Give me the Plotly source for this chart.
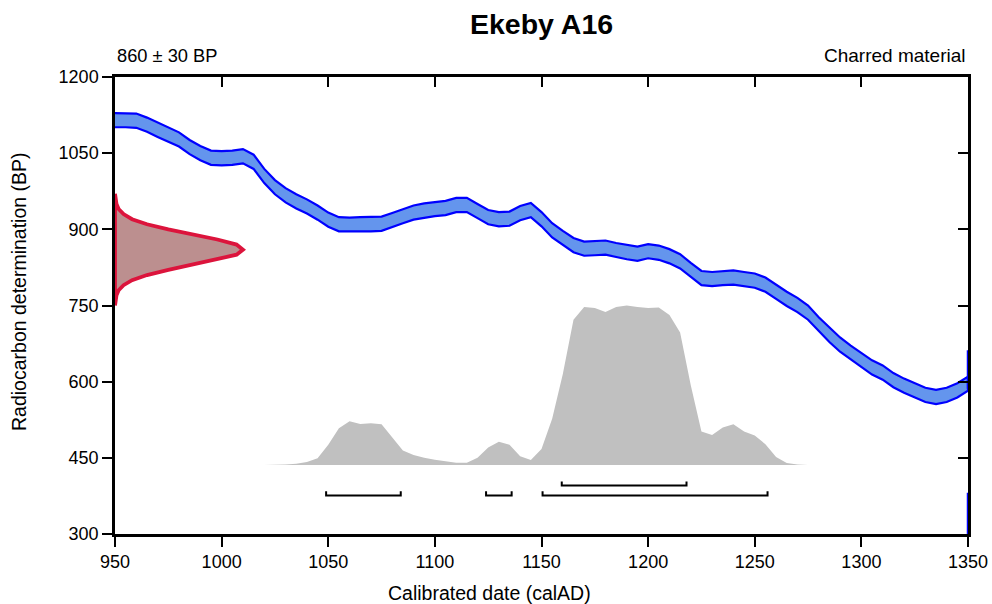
import plotly.graph_objects as go

# ---------------- data ----------------
TITLE = "Ekeby A16"
SAMPLE_LABEL = "860 ± 30 BP"
MATERIAL = "Charred material"
X_TITLE = "Calibrated date (calAD)"
Y_TITLE = "Radiocarbon determination (BP)"

x_ticks = [950, 1000, 1050, 1100, 1150, 1200, 1250, 1300, 1350]
y_ticks = [300, 450, 600, 750, 900, 1050, 1200]

# calibration curve (calAD, BP) and its 1-sigma half-width
cal_years = [950, 955, 960, 965, 970, 975, 980, 985, 990, 995, 1000, 1005, 1010, 1015,
             1020, 1025, 1030, 1035, 1040, 1045, 1050, 1055, 1060, 1065, 1070, 1075,
             1080, 1085, 1090, 1095, 1100, 1105, 1110, 1115, 1120, 1125, 1130, 1135,
             1140, 1145, 1150, 1155, 1160, 1165, 1170, 1175, 1180, 1185, 1190, 1195,
             1200, 1205, 1210, 1215, 1220, 1225, 1230, 1235, 1240, 1245, 1250, 1255,
             1260, 1265, 1270, 1275, 1280, 1285, 1290, 1295, 1300, 1305, 1310, 1315,
             1320, 1325, 1330, 1335, 1340, 1345, 1350]
cal_bp = [1115, 1115, 1114, 1106, 1096, 1086, 1077, 1062, 1050, 1041, 1040, 1041, 1044, 1033,
          1005, 983, 967, 955, 945, 933, 919, 910, 909, 910, 910, 911,
          918, 926, 933, 937, 940, 942, 948, 948, 936, 924, 920, 921,
          932, 938, 920, 898, 883, 869, 862, 863, 864, 859, 855, 852,
          857, 854, 847, 837, 820, 804, 802, 804, 805, 802, 799, 791,
          777, 763, 751, 736, 713, 692, 673, 657, 643, 628, 618, 603,
          592, 583, 574, 570, 574, 583, 596]
cal_err = 14

# clipped curve outline visible along the right edge (BP spans at 1350)
edge_spans = [(662, 586), (381, 300)]

# radiocarbon measurement distribution (BP, relative width in years)
rc_bp = [750, 760, 770, 780, 790, 800, 810, 820, 830, 840, 850, 860,
         870, 880, 890, 900, 910, 920, 930, 940, 950, 960, 970]
rc_width = [0, 0.3, 0.7, 1.7, 4, 8, 15, 25, 36, 48, 57, 60,
            57, 48, 36, 25, 15, 8, 4, 1.7, 0.7, 0.3, 0]

# calibrated probability distribution (calAD, relative probability)
prob_years = [1020, 1025, 1030, 1035, 1040, 1045, 1050, 1055, 1060, 1065, 1070, 1075,
              1080, 1085, 1090, 1095, 1100, 1105, 1110, 1115, 1120, 1125, 1130, 1135,
              1140, 1145, 1150, 1155, 1160, 1165, 1170, 1175, 1180, 1185, 1190, 1195,
              1200, 1205, 1210, 1215, 1220, 1225, 1230, 1235, 1240, 1245, 1250, 1255,
              1260, 1265, 1270, 1275]
prob_vals = [0, 0.001, 0.003, 0.008, 0.018, 0.042, 0.126, 0.23, 0.274, 0.257, 0.262, 0.255,
             0.17, 0.09, 0.063, 0.045, 0.033, 0.022, 0.014, 0.014, 0.045, 0.11, 0.146, 0.126,
             0.055, 0.031, 0.1, 0.29, 0.57, 0.91, 0.99, 0.985, 0.96, 0.99, 1.0, 0.99,
             0.984, 0.987, 0.94, 0.83, 0.5, 0.21, 0.188, 0.235, 0.255, 0.21, 0.185, 0.13,
             0.05, 0.012, 0.003, 0]

# highest probability ranges
range_68 = [(1159.5, 1218)]
range_95 = [(1049, 1084), (1124, 1136), (1150.5, 1256)]

# ---------------- styling / placement ----------------
FONT = "Liberation Sans, Arial, sans-serif"
PROB_BASE = 436      # BP level of distribution baseline
PROB_SCALE = 314     # BP height of the distribution peak
RC_BASE = 950
EDGE_X = 1350
Y68, Y95, TICK_H = 395.5, 376, 8
L, R, T, B = 115, 24, 77, 70
W, H = 992, 604
PW, PH = W - L - R, H - T - B

fig = go.Figure()

# calibration band
upper = [b + cal_err for b in cal_bp]
lower = [b - cal_err for b in cal_bp]
fig.add_trace(go.Scatter(
    x=cal_years + cal_years[::-1], y=upper + lower[::-1],
    fill="toself", fillcolor="#6495ED", mode="lines",
    line=dict(color="#0000FF", width=2.2), hoverinfo="skip", showlegend=False))

# calibrated distribution
px = [prob_years[0]] + prob_years + [prob_years[-1]]
py = [PROB_BASE] + [PROB_BASE + p * PROB_SCALE for p in prob_vals] + [PROB_BASE]
fig.add_trace(go.Scatter(
    x=px, y=py, fill="toself", fillcolor="#C0C0C0", mode="lines",
    line=dict(color="rgba(0,0,0,0)", width=0), hoverinfo="skip", showlegend=False))

# radiocarbon distribution
rx = [RC_BASE + w for w in rc_width]
fig.add_trace(go.Scatter(
    x=rx + [RC_BASE, RC_BASE], y=rc_bp + [rc_bp[-1], rc_bp[0]],
    fill="toself", fillcolor="#BC8F8F", mode="lines",
    line=dict(color="#DC143C", width=3.8), hoverinfo="skip", showlegend=False))

# range brackets
def bracket_path(ranges, level):
    xs, ys = [], []
    for a, b in ranges:
        xs += [a, a, b, b, None]
        ys += [level + TICK_H, level, level, level + TICK_H, None]
    return xs, ys

for rng, lev in ((range_68, Y68), (range_95, Y95)):
    bx, by = bracket_path(rng, lev)
    fig.add_trace(go.Scatter(x=bx, y=by, mode="lines",
                             line=dict(color="black", width=2),
                             hoverinfo="skip", showlegend=False))

axis_common = dict(showgrid=False, zeroline=False, showline=True,
                   linecolor="black", linewidth=2.5, tickcolor="black",
                   tickwidth=2, ticklen=10, automargin=False)

fig.update_layout(
    width=W, height=H, autosize=False,
    margin=dict(l=L, r=R, t=T, b=B, autoexpand=False),
    paper_bgcolor="white", plot_bgcolor="white",
    font=dict(family=FONT, size=18, color="black"),
    xaxis=dict(range=[950, 1350], tickvals=x_ticks, ticks="outside",
               tickfont=dict(size=18), **axis_common),
    yaxis=dict(range=[300, 1200], tickvals=y_ticks, ticks="outside",
               tickfont=dict(size=18), **axis_common),
    xaxis2=dict(range=[950, 1350], tickvals=x_ticks, ticks="inside", side="top",
                overlaying="x", showticklabels=False, **axis_common),
    yaxis2=dict(range=[300, 1200], tickvals=y_ticks, ticks="inside", side="right",
                overlaying="y", showticklabels=False, **axis_common),
    showlegend=False,
)
# right-edge outline segments, drawn on the overlay axes so they sit above the frame
ex, ey = [], []
for a, b in edge_spans:
    ex += [EDGE_X, EDGE_X, None]
    ey += [a, b, None]
fig.add_trace(go.Scatter(x=ex, y=ey, xaxis="x2", yaxis="y2", mode="lines",
                         line=dict(color="#0000FF", width=2.5), cliponaxis=False,
                         showlegend=False, hoverinfo="skip"))

ann = [
    dict(text="<b>" + TITLE + "</b>", x=0.5, y=(H - B - 24) / PH,
         xanchor="center", yanchor="middle", font=dict(size=28.5)),
    dict(text=SAMPLE_LABEL, x=0, y=(H - B - 55) / PH,
         xanchor="left", yanchor="middle", font=dict(size=18.3)),
    dict(text=MATERIAL, x=1, y=(H - B - 55) / PH,
         xanchor="right", yanchor="middle", font=dict(size=19)),
    dict(text=X_TITLE, x=(489 - L) / PW, y=(H - B - 593) / PH,
         xanchor="center", yanchor="middle", font=dict(size=19.5)),
    dict(text=Y_TITLE, x=(19 - L) / PW, y=(H - B - 292) / PH, textangle=-90,
         xanchor="center", yanchor="middle", font=dict(size=19.5)),
]
for a in ann:
    a.update(xref="paper", yref="paper", showarrow=False)
fig.update_layout(annotations=ann)

fig.write_html("out.html", config={"displayModeBar": False, "responsive": False},
               post_script="document.body.style.margin='0';document.body.style.overflow='hidden';")
